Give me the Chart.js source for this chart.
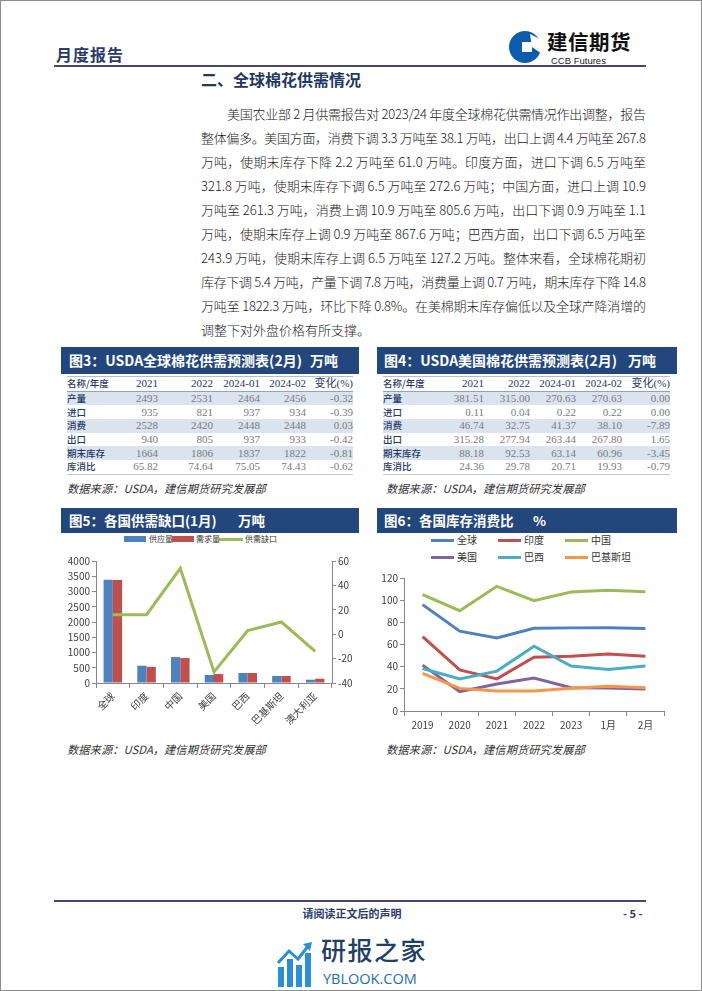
<!DOCTYPE html>
<html><head><meta charset="utf-8">
<script src="https://cdn.jsdelivr.net/npm/chart.js@4.4.1/dist/chart.umd.min.js"></script>
<style>
html,body{margin:0;padding:0;background:#fff;}
#page{position:relative;width:702px;height:991px;box-sizing:border-box;border:1px solid #8c8c8c;overflow:hidden;font-family:"Noto Sans CJK SC","Noto Sans",sans-serif;color:#222;}
.abs{position:absolute;}
.hdrbox{position:absolute;background:#23477d;color:#fff;font-weight:700;font-size:14px;line-height:26px;white-space:nowrap;}
.src{position:absolute;font-size:11.3px;font-style:italic;color:#333;white-space:nowrap;}
table.t{position:absolute;border-collapse:collapse;font-size:11px;table-layout:fixed;}
table.t td{padding:0;height:13.7px;line-height:13px;white-space:nowrap;text-align:right;font-family:"Liberation Serif","Noto Sans CJK SC",serif;color:#7a7a7a;}
table.t td.n{text-align:left;font-family:"Noto Sans CJK SC",sans-serif;color:#1f3864;font-weight:500;font-size:9.5px;}
table.t tr.h td{color:#1f3864;border-top:1px solid #b0bccf;border-bottom:1px solid #8fa2c0;}
table.t tr.b td{background:#dbe3ef;}
table.t tr:last-child td{border-bottom:1px solid #c8c8c8;}
.body{position:absolute;left:200px;top:101px;width:445px;font-size:13px;line-height:24px;font-weight:300;color:#1a1a1a;}
.body div{height:24px;white-space:nowrap;}
.lg{position:absolute;font-size:10px;color:#333;white-space:nowrap;line-height:12px;}
.lg span.sw{position:absolute;}
</style></head>
<body>
<div id="page">
  <!-- header -->
  <div class="abs" style="left:55px;top:41px;font-size:16px;font-weight:600;color:#2b3a6b;letter-spacing:1px;">月度报告</div>
  <svg class="abs" style="left:507px;top:29px" width="34" height="34" viewBox="0 0 34 34">
    <circle cx="17" cy="17" r="16" fill="#0b5cad"/>
    <rect x="14" y="12" width="10" height="10" fill="#fff"/>
    <path d="M22 4 L34 10 L34 24 L24 17 Z" fill="#fff"/>
  </svg>
  <div class="abs" style="left:546px;top:30px;font-size:20.5px;line-height:20px;font-weight:700;color:#111;letter-spacing:0.5px;">建信期货</div>
  <div class="abs" style="left:550px;top:55px;font-size:9.5px;line-height:10px;color:#222;font-family:'Liberation Sans',sans-serif;">CCB Futures</div>
  <div class="abs" style="left:53px;top:64px;width:592px;height:2px;background:#44476b;"></div>

  <div class="abs" style="left:200px;top:67px;font-size:16px;font-weight:700;color:#1f3864;line-height:22px;">二、全球棉花供需情况</div>

  <div class="body" id="body">
    <div style="padding-left:26px"><span>美国农业部 2 月供需报告对 2023/24 年度全球棉花供需情况作出调整，报告</span></div>
    <div><span>整体偏多。美国方面，消费下调 3.3 万吨至 38.1 万吨，出口上调 4.4 万吨至 267.8</span></div>
    <div><span>万吨，使期末库存下降 2.2 万吨至 61.0 万吨。印度方面，进口下调 6.5 万吨至</span></div>
    <div><span>321.8 万吨，使期末库存下调 6.5 万吨至 272.6 万吨；中国方面，进口上调 10.9</span></div>
    <div><span>万吨至 261.3 万吨，消费上调 10.9 万吨至 805.6 万吨，出口下调 0.9 万吨至 1.1</span></div>
    <div><span>万吨，使期末库存上调 0.9 万吨至 867.6 万吨；巴西方面，出口下调 6.5 万吨至</span></div>
    <div><span>243.9 万吨，使期末库存上调 6.5 万吨至 127.2 万吨。整体来看，全球棉花期初</span></div>
    <div><span>库存下调 5.4 万吨，产量下调 7.8 万吨，消费量上调 0.7 万吨，期末库存下降 14.8</span></div>
    <div><span>万吨至 1822.3 万吨，环比下降 0.8%。在美棉期末库存偏低以及全球产降消增的</span></div>
    <div class="last"><span>调整下对外盘价格有所支撑。</span></div>
  </div>

  <!-- table headers -->
  <div class="hdrbox" style="left:60px;top:346px;width:298px;height:27px;"><span style="position:absolute;left:8px;">图3：USDA全球棉花供需预测表(2月)</span><span style="position:absolute;left:249px;">万吨</span></div>
  <div class="hdrbox" style="left:376px;top:346px;width:300px;height:27px;"><span style="position:absolute;left:7px;">图4：USDA美国棉花供需预测表(2月)</span><span style="position:absolute;left:251px;">万吨</span></div>
  <table class="t" id="t3" style="left:66px;top:375px;width:286px;"></table>
  <table class="t" id="t4" style="left:382px;top:375px;width:287px;"></table>
  <div class="src" style="left:66px;top:479px;">数据来源：USDA，建信期货研究发展部</div>
  <div class="src" style="left:385px;top:479px;">数据来源：USDA，建信期货研究发展部</div>

  <!-- chart headers -->
  <div class="hdrbox" style="left:60px;top:507px;width:298px;height:25px;line-height:25px;font-size:13.5px;"><span style="position:absolute;left:8px;">图5：各国供需缺口(1月)</span><span style="position:absolute;left:177px;">万吨</span></div>
  <div class="hdrbox" style="left:376px;top:507px;width:300px;height:25px;line-height:25px;font-size:13.5px;"><span style="position:absolute;left:7px;">图6：各国库存消费比</span><span style="position:absolute;left:156px;">%</span></div>

  <!-- chart5 legend -->
  <div class="lg" style="left:0;top:532px;font-size:8px;">
    <span class="sw" style="left:123px;top:3px;width:22px;height:6px;background:#4F81BD;"></span>
    <span class="abs" style="left:148px;top:0;">供应量</span>
    <span class="sw" style="left:171px;top:3px;width:22px;height:6px;background:#C0504D;"></span>
    <span class="abs" style="left:195px;top:0;">需求量</span>
    <span class="sw" style="left:218px;top:5px;width:24px;height:3px;background:#9BBB59;"></span>
    <span class="abs" style="left:244px;top:0;">供需缺口</span>
  </div>
  <!-- chart6 legend -->
  <div class="lg" style="left:0;top:533px;">
    <span class="sw" style="left:430px;top:5px;width:23px;height:3px;background:#4F81BD;"></span><span class="abs" style="left:456px;top:0;">全球</span>
    <span class="sw" style="left:497px;top:5px;width:23px;height:3px;background:#C0504D;"></span><span class="abs" style="left:523px;top:0;">印度</span>
    <span class="sw" style="left:564px;top:5px;width:23px;height:3px;background:#9BBB59;"></span><span class="abs" style="left:590px;top:0;">中国</span>
    <span class="sw" style="left:430px;top:22px;width:23px;height:3px;background:#8064A2;"></span><span class="abs" style="left:456px;top:17px;">美国</span>
    <span class="sw" style="left:497px;top:22px;width:23px;height:3px;background:#4BACC6;"></span><span class="abs" style="left:523px;top:17px;">巴西</span>
    <span class="sw" style="left:564px;top:22px;width:23px;height:3px;background:#F79646;"></span><span class="abs" style="left:590px;top:17px;">巴基斯坦</span>
  </div>

  <canvas id="c5" class="abs" style="left:50px;top:550px;" width="310" height="190"></canvas>
  <canvas id="c6" class="abs" style="left:370px;top:565px;" width="305" height="175"></canvas>

  <div class="src" style="left:66px;top:740px;">数据来源：USDA，建信期货研究发展部</div>
  <div class="src" style="left:385px;top:740px;">数据来源：USDA，建信期货研究发展部</div>

  <!-- footer -->
  <div class="abs" style="left:53px;top:899px;width:592px;height:2px;background:#44476b;"></div>
  <div class="abs" style="left:0;width:702px;top:904px;text-align:center;font-size:11px;font-weight:600;color:#2b3a6b;">请阅读正文后的声明</div>
  <div class="abs" style="left:622px;top:904px;font-size:11px;font-weight:600;color:#2b3a6b;">- 5 -</div>

  <!-- watermark -->
  <svg class="abs" style="left:276px;top:940px" width="36" height="46" viewBox="0 0 36 46">
    <rect x="1" y="26" width="6" height="20" fill="#2b8fd6"/>
    <rect x="10" y="18" width="6" height="28" fill="#2b8fd6"/>
    <rect x="19" y="24" width="6" height="22" fill="#2b8fd6"/>
    <rect x="28" y="12" width="6" height="34" fill="#2b8fd6"/>
    <polyline points="1,22 12,10 21,18 32,4" fill="none" stroke="#2b8fd6" stroke-width="3"/>
    <path d="M26 3 L35 1 L33 10 Z" fill="#2b8fd6"/>
  </svg>
  <div class="abs" style="left:320px;top:932px;font-size:25px;color:#1e3f66;font-weight:500;letter-spacing:1.5px;line-height:32px;">研报之家</div>
  <div class="abs" style="left:322px;top:969px;font-size:14.5px;color:#1f6db3;font-family:'Open Sans',sans-serif;line-height:18px;">YBLOOK.COM</div>
</div>

<script>
// ---- table data ----
const tableHeader = ['名称/年度','2021','2022','2024-01','2024-02','变化(%)'];
const tableRowNames = ['产量','进口','消费','出口','期末库存','库消比'];
const worldTable = [
  ['2493','2531','2464','2456','-0.32'],
  ['935','821','937','934','-0.39'],
  ['2528','2420','2448','2448','0.03'],
  ['940','805','937','933','-0.42'],
  ['1664','1806','1837','1822','-0.81'],
  ['65.82','74.64','75.05','74.43','-0.62']
];
const usTable = [
  ['381.51','315.00','270.63','270.63','0.00'],
  ['0.11','0.04','0.22','0.22','0.00'],
  ['46.74','32.75','41.37','38.10','-7.89'],
  ['315.28','277.94','263.44','267.80','1.65'],
  ['88.18','92.53','63.14','60.96','-3.45'],
  ['24.36','29.78','20.71','19.93','-0.79']
];
// ---- chart 5 data ----
const gapCategories = ['全球','印度','中国','美国','巴西','巴基斯坦','澳大利亚'];
const supplyValues = [3385, 566, 850, 262, 327, 229, 108];
const demandValues = [3380, 530, 818, 294, 327, 229, 140];
const gapValues = [16, 16, 54, -31, 3, 10, -14];
// ---- chart 6 data ----
const ratioCategories = ['2019','2020','2021','2022','2023','1月','2月'];
const ratioGlobal = [96, 72, 65.8, 74.6, 75, 75.1, 74.4];
const ratioIndia = [67, 37, 29, 48.6, 49.5, 51.5, 49.5];
const ratioChina = [105, 90.5, 112.5, 99.6, 107.4, 109, 107.5];
const ratioUS = [41.4, 17.4, 24.4, 29.8, 21, 20.7, 19.9];
const ratioBrazil = [38.4, 29, 36, 58.5, 40.5, 37.5, 40.5];
const ratioPakistan = [33.9, 20.4, 18, 18, 20.5, 22.3, 21];

// justify each body line to the column width
document.querySelectorAll('#body div').forEach(d=>{
  if(d.classList.contains('last')) return;
  const span = d.querySelector('span');
  const pad = parseFloat(d.style.paddingLeft||0);
  const target = 445 - pad;
  const w = span.getBoundingClientRect().width;
  const n = [...span.textContent].length;
  span.style.letterSpacing = ((target - w)/(n-1)).toFixed(3)+'px';
});

function buildTable(id, widths, rows){
  const t = document.getElementById(id);
  const cg = document.createElement('colgroup');
  widths.forEach(w=>{const c=document.createElement('col');c.style.width=w+'px';cg.appendChild(c);});
  t.appendChild(cg);
  const h = document.createElement('tr'); h.className='h';
  tableHeader.forEach((s,i)=>{const td=document.createElement('td');td.textContent=s;if(i===0)td.className='n';h.appendChild(td);});
  t.appendChild(h);
  rows.forEach((r,ri)=>{
    const tr=document.createElement('tr'); if(ri%2===0) tr.className='b';
    const n=document.createElement('td');n.className='n';n.textContent=tableRowNames[ri];tr.appendChild(n);
    r.forEach(v=>{const td=document.createElement('td');td.textContent=v;tr.appendChild(td);});
    t.appendChild(tr);
  });
}
buildTable('t3',[45,46,55,47,46,47],worldTable);
buildTable('t4',[54,47,46,46,46,48],usTable);

Chart.defaults.font.family = '"Noto Sans CJK SC","Liberation Sans",sans-serif';
Chart.defaults.color = '#404040';
const axisColor = '#868686';
const plain = v => String(v);

new Chart(document.getElementById('c5'), {
  type:'bar',
  data:{labels:gapCategories, datasets:[
    {label:'供应量', data:supplyValues, backgroundColor:'#4F81BD', yAxisID:'y', order:2, categoryPercentage:0.55, barPercentage:1},
    {label:'需求量', data:demandValues, backgroundColor:'#C0504D', yAxisID:'y', order:2, categoryPercentage:0.55, barPercentage:1},
    {type:'line', label:'供需缺口', data:gapValues, yAxisID:'y1', borderColor:'#9BBB59', backgroundColor:'#9BBB59', borderWidth:3, pointRadius:0, tension:0, order:0}
  ]},
  options:{
    responsive:false, animation:false, devicePixelRatio:1,
    layout:{padding:{top:10,left:0,right:0,bottom:0}},
    plugins:{legend:{display:false}, tooltip:{enabled:false}},
    scales:{
      x:{grid:{display:true, drawOnChartArea:false, offset:true, tickLength:5, color:axisColor}, border:{color:axisColor},
         ticks:{minRotation:45, maxRotation:45, font:{size:10}, color:'#404040', padding:2, autoSkip:false},
         afterFit(s){s.height=58;}},
      y:{min:0, max:4000, ticks:{stepSize:500, font:{size:10}, color:'#404040', padding:2, callback:plain},
         grid:{drawOnChartArea:false, tickLength:4, color:axisColor}, border:{color:axisColor},
         afterFit(s){s.width=45;}},
      y1:{position:'right', min:-40, max:60, ticks:{stepSize:10, font:{size:10}, color:'#404040', padding:2, callback:plain},
         grid:{drawOnChartArea:false, tickLength:4, color:axisColor}, border:{color:axisColor},
         afterFit(s){s.width=29;}}
    }
  }
});

const ratioSets = [
  ['全球', ratioGlobal, '#4F81BD'],
  ['印度', ratioIndia, '#C0504D'],
  ['中国', ratioChina, '#9BBB59'],
  ['美国', ratioUS, '#8064A2'],
  ['巴西', ratioBrazil, '#4BACC6'],
  ['巴基斯坦', ratioPakistan, '#F79646']
];
new Chart(document.getElementById('c6'), {
  type:'line',
  data:{labels:ratioCategories, datasets: ratioSets.map((d,i)=>({label:d[0], data:d[1], borderColor:d[2], backgroundColor:d[2], borderWidth:3, pointRadius:0, tension:0, order:6-i}))},
  options:{
    responsive:false, animation:false, devicePixelRatio:1,
    layout:{padding:{top:12,right:12,left:0,bottom:0}},
    plugins:{legend:{display:false}, tooltip:{enabled:false}},
    scales:{
      x:{offset:true, grid:{display:true, drawOnChartArea:false, offset:true, tickLength:5, color:axisColor}, border:{color:axisColor},
         ticks:{font:{size:10}, color:'#404040', padding:3, maxRotation:0, autoSkip:false},
         afterFit(s){s.height=30;}},
      y:{min:0, max:120, ticks:{stepSize:20, font:{size:10}, color:'#404040', padding:2, callback:plain},
         grid:{drawOnChartArea:false, tickLength:4, color:axisColor}, border:{color:axisColor},
         afterFit(s){s.width=33;}}
    }
  }
});
</script>
</body></html>
